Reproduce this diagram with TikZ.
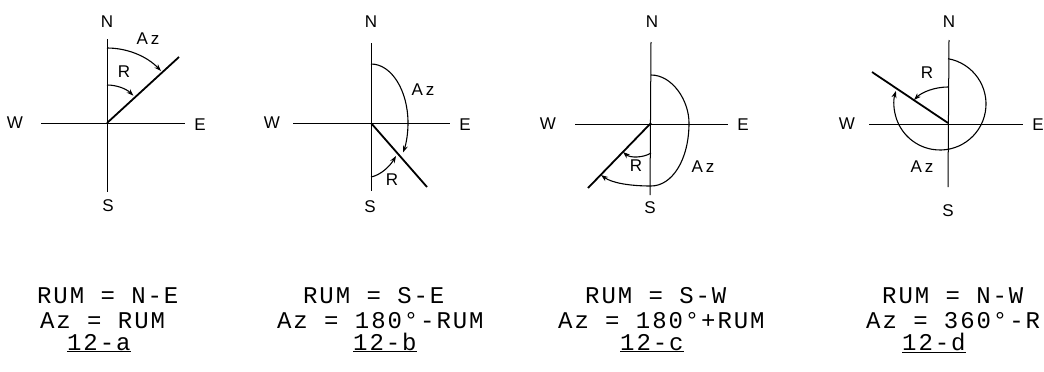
\documentclass[tikz,border=0pt]{standalone}
\usepackage{fontspec}
\setmainfont{Liberation Sans}
\newfontfamily\typew[LetterSpace=8]{Liberation Mono}
\usetikzlibrary{arrows.meta}
\begin{document}
\begin{tikzpicture}[x=1pt,y=1pt,
  lbl/.style={font=\fontsize{17}{20}\selectfont, inner sep=0pt},
  axis/.style={line width=1pt},
  ray/.style={line width=1.8pt},
  arcline/.style={line width=1.1pt, -{Stealth[length=7pt,width=5pt]}},
  eq/.style={font=\typew\fontsize{24}{28}\selectfont, anchor=base west, inner sep=0pt}]
\useasboundingbox (0,0) rectangle (1044,-372);

% ---------- 12-a ----------
\coordinate (aO) at (107,-123);
\coordinate (aT) at (107,-39);  \coordinate (aB) at (107,-192);
\coordinate (aL) at (41,-123);  \coordinate (aR) at (185,-123);
\coordinate (aP) at (179,-57);
\node[lbl] (aN) at (107,-21.5) {N};
\node[lbl] (aS) at (108,-206) {S};
\node[lbl] (aW) at (15,-123) {W};
\node[lbl] (aE) at (200,-125) {E};
\draw[axis] (aT) -- (aB);
\draw[axis] (aL) -- (aR);
\draw[ray] (aO) -- (aP);
\draw[arcline] (107,-48) arc[start angle=90,end angle=44,radius=75];
\draw[arcline] (107,-85) arc[start angle=90,end angle=46,radius=38];
\node[lbl] (aAz) at (148,-39) {A\,z};
\node[lbl] (aRl) at (124,-72) {R};

% ---------- 12-b ----------
\coordinate (bO) at (371,-123);
\coordinate (bT) at (371,-43);  \coordinate (bB) at (371,-191);
\coordinate (bL) at (293,-123); \coordinate (bR) at (450,-123);
\coordinate (bP) at (427,-187);
\node[lbl] (bN) at (371,-21.5) {N};
\node[lbl] (bS) at (370,-207) {S};
\node[lbl] (bW) at (272,-123) {W};
\node[lbl] (bE) at (465,-125) {E};
\draw[axis] (bT) -- (bB);
\draw[axis] (bL) -- (bR);
\draw[ray] (bO) -- (bP);
\draw[arcline] (371,-64) arc[start angle=90,end angle=-30,x radius=37,y radius=59];
\draw[arcline] (371,-177) .. controls (381,-175) and (390,-166) .. (396,-156);
\node[lbl] (bAz) at (423,-90) {A\,z};
\node[lbl] (bRl) at (392,-180) {R};

% ---------- 12-c ----------
\coordinate (cO) at (651,-123);
\coordinate (cT) at (651,-42);  \coordinate (cB) at (650,-195);
\coordinate (cL) at (575,-124); \coordinate (cR) at (728,-124);
\coordinate (cP) at (588,-188);
\node[lbl] (cN) at (652,-21.5) {N};
\node[lbl] (cS) at (650,-208) {S};
\node[lbl] (cW) at (548,-124) {W};
\node[lbl] (cE) at (743,-125) {E};
\draw[axis] (cT) -- (cB);
\draw[axis] (cL) -- (cR);
\draw[ray] (cO) -- (cP);
\draw[arcline] (651,-75) .. controls (672,-75) and (689,-100) .. (689,-123)
  .. controls (689,-160) and (672,-186) .. (651,-186)
  .. controls (630,-186) and (612,-183) .. (601,-175);
\draw[arcline] (651,-153) .. controls (643,-158) and (630,-158) .. (623,-152);
\node[lbl] (cRl) at (636,-166) {R};
\node[lbl] (cAz) at (703,-167) {A\,z};

% ---------- 12-d ----------
\coordinate (dO) at (948,-123);
\coordinate (dT) at (949,-40);  \coordinate (dB) at (948,-187);
\coordinate (dL) at (869,-124); \coordinate (dR) at (1023,-124);
\coordinate (dP) at (872,-72);
\node[lbl] (dN) at (949,-21.5) {N};
\node[lbl] (dS) at (948,-211) {S};
\node[lbl] (dW) at (847,-124) {W};
\node[lbl,anchor=east] (dE) at (1044,-125) {E};
\draw[axis] (dT) -- (dB);
\draw[axis] (dL) -- (dR);
\draw[ray] (dO) -- (dP);
\draw[arcline] (948,-58.7) arc[start angle=80,end angle=-196.5,radius=46];
\draw[arcline] (948,-87) .. controls (935,-87) and (922,-92) .. (914,-100);
\node[lbl] (dRl) at (927,-73) {R};
\node[lbl] (dAz) at (922,-167) {A\,z};

% ---------- formulas ----------
\node[eq] (fa1) at (37,-303) {RUM = N-E};
\node[eq] (fa2) at (40,-328) {Az = RUM};
\node[eq] (fa3) at (67,-350) {\underline{12-a}};

\node[eq] (fb1) at (303,-303) {RUM = S-E};
\node[eq] (fb2) at (277,-328) {Az = 180°-RUM};
\node[eq] (fb3) at (353,-350) {\underline{12-b}};

\node[eq] (fc1) at (585,-303) {RUM = S-W};
\node[eq] (fc2) at (558,-328) {Az = 180°+RUM};
\node[eq] (fc3) at (620,-350) {\underline{12-c}};

\node[eq] (fd1) at (882,-303) {RUM = N-W};
\node[eq] (fd2) at (866,-328) {Az = 360°-R};
\node[eq] (fd3) at (902,-350) {\underline{12-d}};
\end{tikzpicture}
\end{document}
